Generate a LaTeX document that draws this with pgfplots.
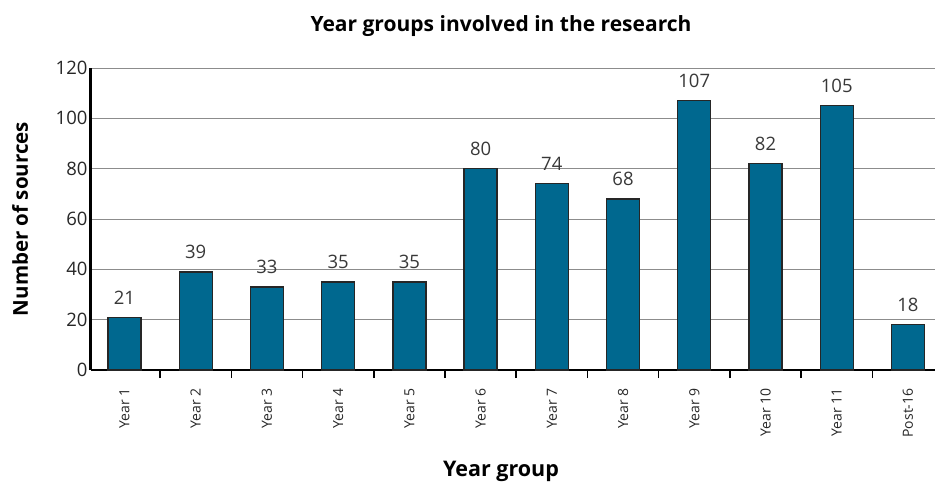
\documentclass[border=0pt]{standalone}
\usepackage{fontspec}
\setmainfont{Open Sans}
\usepackage{pgfplots}
\pgfplotsset{compat=1.18}
\definecolor{barblue}{HTML}{00688F}
\definecolor{gridgray}{HTML}{8C8C8C}
\begin{document}
\begin{tikzpicture}
  \begin{axis}[
      scale only axis,
      width=844pt, height=302pt,
      xmin=-0.47, xmax=11.38,
      ymin=0, ymax=120,
      ybar, bar width=33pt,
      /pgf/number format/assume math mode=true,
      axis x line=bottom, axis y line=left,
      axis line style={-, black},
      x axis line style={line width=2pt},
      y axis line style={line width=3pt},
      ytick={0,20,...,120},
      ymajorgrids,
      major grid style={draw=gridgray, line width=0.9pt},
      xtick={0,...,11},
      xticklabels={Year 1, Year 2, Year 3, Year 4, Year 5, Year 6,
                   Year 7, Year 8, Year 9, Year 10, Year 11, Post-16},
      minor xtick={0.5,1.5,...,10.5},
      major tick length=0pt,
      minor tick length=8pt,
      tick align=outside,
      minor tick style={black, line width=1.5pt},
      xticklabel style={yshift=-15pt, rotate=90, anchor=east,
                        font=\fontsize{14}{16}\selectfont, text=black!85},
      yticklabel style={font=\fontsize{18.5}{20}\selectfont, text=black!85},
      nodes near coords,
      every node near coord/.append style={font=\fontsize{18.5}{20}\selectfont,
                                           text=black!78, yshift=9pt},
      title={Year groups involved in the research},
      title style={at={(axis description cs:0.5,1)}, anchor=south,
                   yshift=22pt, xshift=-12pt,
                   font=\bfseries\fontsize{21}{23}\selectfont},
      xlabel={Year group},
      xlabel style={at={(axis description cs:0.5,0)}, anchor=center,
                    yshift=-101pt, xshift=-12pt,
                    font=\bfseries\fontsize{21.5}{23}\selectfont},
      ylabel={Number of sources},
      ylabel style={at={(axis description cs:-0.084,0.5)}, anchor=center,
                    font=\bfseries\fontsize{20.5}{22}\selectfont},
    ]
    \addplot [fill=barblue, draw=black!85, line width=1.3pt]
      coordinates {(0,21) (1,39) (2,33) (3,35) (4,35) (5,80)
                   (6,74) (7,68) (8,107) (9,82) (10,105) (11,18)};
  \end{axis}
  \pgfresetboundingbox
  \path ([xshift=-91pt,yshift=-117pt]current axis.south west)
        rectangle ([yshift=68pt]current axis.north east);
\end{tikzpicture}
\end{document}
